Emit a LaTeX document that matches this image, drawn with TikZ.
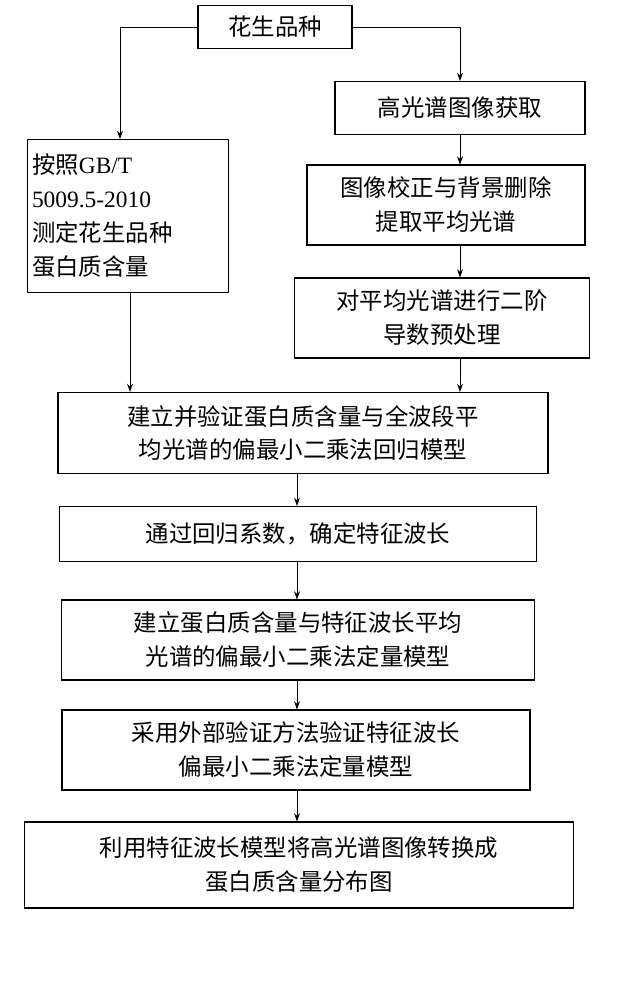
\documentclass[tikz,border=0pt]{standalone}
\usepackage{fontspec}
\setmainfont{Liberation Serif}
\newfontfamily\cjk{Noto Sans CJK SC}
\usetikzlibrary{arrows.meta,positioning}

\begin{document}
\begin{tikzpicture}[x=0.03cm, y=-0.03cm,
        box/.style={draw, line width=0.9pt, inner sep=2pt, align=center, font=\fontsize{20}{29}\selectfont\cjk},
        arr/.style={-{Stealth[length=7pt,width=5pt]}, line width=0.6pt}]
    \useasboundingbox (0,0) rectangle (617,1000);
    \node [box, minimum width=154*0.03cm, minimum height=43*0.03cm] (variety) at (275,27) {花生品种};
    \node [box, minimum width=250*0.03cm, minimum height=53*0.03cm] (acquire) at (460,108) {高光谱图像获取};
    \node [box, align=left, inner xsep=4pt, text width=192*0.03cm, minimum height=153*0.03cm] (measure) at (128,216)
        {按照{\rmfamily GB/T}\\{\rmfamily 5009.5-2010}\\测定花生品种\\蛋白质含量};
    \node [box, minimum width=278*0.03cm, minimum height=80*0.03cm] (correct) at (446,205) {图像校正与背景删除\\提取平均光谱};
    \node [box, minimum width=295*0.03cm, minimum height=80*0.03cm] (deriv) at (442,318) {对平均光谱进行二阶\\导数预处理};
    \node [box, minimum width=490*0.03cm, minimum height=81*0.03cm] (fullmodel) at (303,433) {建立并验证蛋白质含量与全波段平\\均光谱的偏最小二乘法回归模型};
    \node [box, minimum width=477*0.03cm, minimum height=55*0.03cm] (wave) at (298,534) {通过回归系数，确定特征波长};
    \node [box, minimum width=473*0.03cm, minimum height=80*0.03cm] (featmodel) at (298,640) {建立蛋白质含量与特征波长平均\\光谱的偏最小二乘法定量模型};
    \node [box, minimum width=468*0.03cm, minimum height=80*0.03cm] (verify) at (296,750) {采用外部验证方法验证特征波长\\偏最小二乘法定量模型};
    \node [box, minimum width=549*0.03cm, minimum height=86*0.03cm] (mapping) at (299,865) {利用特征波长模型将高光谱图像转换成\\蛋白质含量分布图};

    \draw [arr] (variety.west) -| (measure.north -| 120,0);
    \draw [arr] (variety.east) -| (acquire.north);
    \draw [arr] (acquire) -- (correct.north -| acquire);
    \draw [arr] (correct.south -| 460,0) -- (deriv.north -| 460,0);
    \draw [arr] (measure.south -| 130,0) -- (fullmodel.north -| 130,0);
    \draw [arr] (deriv.south -| 460,0) -- (fullmodel.north -| 460,0);
    \draw [arr] (fullmodel.south -| 297,0) -- (wave.north -| 297,0);
    \draw [arr] (wave.south -| 297,0) -- (featmodel.north -| 297,0);
    \draw [arr] (featmodel.south -| 297,0) -- (verify.north -| 297,0);
    \draw [arr] (verify.south -| 297,0) -- (mapping.north -| 297,0);
\end{tikzpicture}
\end{document}
